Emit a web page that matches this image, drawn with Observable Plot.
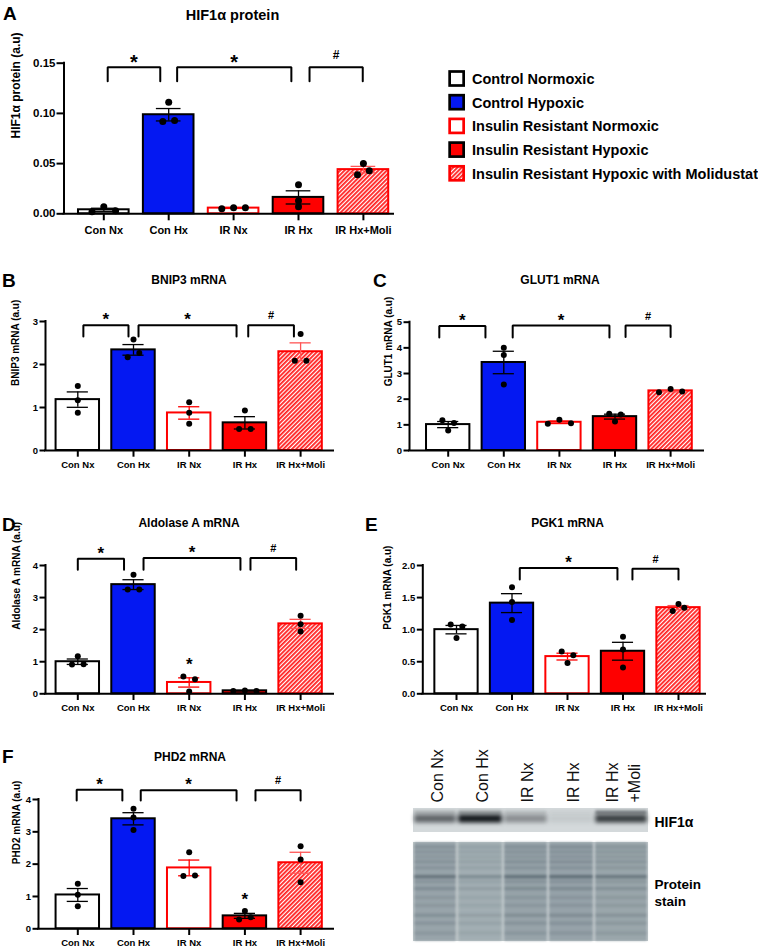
<!DOCTYPE html>
<html>
<head>
<meta charset="utf-8">
<script src="https://cdn.jsdelivr.net/npm/d3@7"></script>
<script src="https://cdn.jsdelivr.net/npm/@observablehq/plot@0.6"></script>
<style>
html, body { margin: 0; padding: 0; background: #fff; }
#page { position: relative; width: 758px; height: 951px; overflow: hidden; font-family: "Liberation Sans", Arial, sans-serif; }
.box { position: absolute; }
</style>
</head>
<body>
<div id="page"></div>
<script>
// ---------------- DATA ----------------
const groups = ["Con Nx", "Con Hx", "IR Nx", "IR Hx", "IR Hx+Moli"];
const legendLabels = ["Control Normoxic", "Control Hypoxic", "Insulin Resistant Normoxic", "Insulin Resistant Hypoxic", "Insulin Resistant Hypoxic with Molidustat"];
const panelLetters = ["A", "B", "C", "D", "E", "F"];
const panelTitles = ["HIF1α protein", "BNIP3 mRNA", "GLUT1 mRNA", "Aldolase A mRNA", "PGK1 mRNA", "PHD2 mRNA"];
const yLabels = ["HIF1α protein (a.u)", "BNIP3 mRNA (a.u)", "GLUT1 mRNA (a.u)", "Aldolase A mRNA (a.u)", "PGK1 mRNA (a.u)", "PHD2 mRNA (a.u)"];

// individual replicate values per group (Con Nx, Con Hx, IR Nx, IR Hx, IR Hx+Moli)
const hif1aProtein = [[0.002, 0.007, 0.003], [0.092, 0.111, 0.093], [0.005, 0.006, 0.006], [0.029, 0.013, 0.007], [0.039, 0.050, 0.043]];
const bnip3 = [[1.50, 1.17, 0.88], [2.17, 2.58, 2.27], [1.12, 0.88, 0.62], [0.93, 0.50, 0.50], [2.71, 2.09, 2.09]];
const glut1 = [[1.18, 1.07, 0.78], [4.00, 3.72, 2.57], [1.04, 1.20, 1.06], [1.43, 1.40, 1.13], [2.27, 2.40, 2.30]];
const aldolaseA = [[0.91, 1.17, 0.92], [3.25, 3.71, 3.25], [0.54, 0.45, 0.07], [0.09, 0.10, 0.09], [2.43, 2.17, 1.94]];
const pgk1 = [[1.08, 1.05, 0.87], [1.66, 1.43, 1.15], [0.66, 0.60, 0.48], [0.89, 0.69, 0.41], [1.40, 1.29, 1.34]];
const phd2 = [[1.39, 1.05, 0.70], [3.71, 3.44, 3.06], [2.37, 1.63, 1.65], [0.55, 0.29, 0.36], [2.55, 2.14, 1.44]];

// y tick values
const ticksA = [0, 0.05, 0.10, 0.15];
const ticksB = [0, 1, 2, 3];
const ticksC = [0, 1, 2, 3, 4, 5];
const ticksD = [0, 1, 2, 3, 4];
const ticksE = [0, 0.5, 1.0, 1.5, 2.0];
const ticksF = [0, 1, 2, 3, 4];

// significance brackets: [from group, to group, top value, leg value, symbol]
const bracketsA = [[0.06, 0.87, 0.146, 0.132, "*"], [1.13, 2.89, 0.146, 0.132, "*"], [3.17, 3.99, 0.146, 0.132, "#"]];
const bracketsB = [[0.10, 0.91, 2.91, 2.65, "*"], [1.09, 2.85, 2.91, 2.65, "*"], [3.06, 3.88, 2.91, 2.65, "#"]];
const bracketsC = [[-0.16, 0.67, 4.85, 4.40, "*"], [1.16, 2.90, 4.87, 4.40, "*"], [3.19, 4.00, 4.87, 4.42, "#"]];
const bracketsD = [[0.00, 0.83, 4.21, 3.87, "*"], [1.18, 2.92, 4.23, 3.87, "*"], [3.10, 3.92, 4.23, 3.87, "#"]];
const bracketsE = [[1.14, 2.90, 1.96, 1.78, "*"], [3.17, 4.00, 1.95, 1.78, "#"]];
const bracketsF = [[-0.02, 0.80, 4.30, 3.97, "*"], [1.13, 2.85, 4.29, 3.97, "*"], [3.19, 4.00, 4.29, 3.97, "#"]];
// single stars over bars: [group, value]
const starsD = [[2, 0.73]];
const starsF = [[3, 0.75]];

// western blot (approximation of the photograph)
const blotLanes = ["Con Nx", "Con Hx", "IR Nx", "IR Hx", "IR Hx\n+Moli"];
const laneEdges = [0, 44, 90, 135, 181, 235];
const blotStrips = [[0, 24], [34, 133]];
const hifBandMain = [0.6, 1.0, 0.38, 0.08, 0.8];
const hifBandUpper = [0.18, 0.3, 0.12, 0.04, 0.5];
const stainBandPos = [0.05, 0.10, 0.15, 0.20, 0.26, 0.35, 0.40, 0.47, 0.56, 0.64, 0.74, 0.82, 0.92];
const stainBandStrength = [0.35, 0.3, 0.25, 0.35, 0.3, 0.95, 0.3, 0.45, 0.25, 0.25, 0.4, 0.3, 0.25];
const stainLaneLoad = [0.95, 0.6, 1.0, 1.05, 0.9];

// ---------------- STYLE / LAYOUT ----------------
const BLUE = "#0418f2", RED = "#fe0000";
const HATCH_KEY = "#fefefd"; // placeholder fill replaced by the hatch pattern
const groupStyle = [
  {fill: "#ffffff", stroke: "#000", err: "#000"},
  {fill: BLUE, stroke: "#000", err: "#000"},
  {fill: "#ffffff", stroke: RED, err: RED},
  {fill: RED, stroke: "#000", err: "#000"},
  {fill: "hatch", stroke: RED, err: "#ff5555"}
];
const HW = 0.39, CW = 0.19;
const FONT = "'Liberation Sans', Arial, Helvetica, sans-serif";
const bigF = {tick: 11.5, x: 11, ylab: 12, star: 20, hash: 12, r: 3.5, gap: 11.8, starDy: 2, hashDy: -8, tsy: 7, tpy: 1.5, tsx: 7, tpx: 5};
const smF = {tick: 9.5, x: 9.5, ylab: 10, star: 17, hash: 11, r: 3, gap: 11.6, starDy: 0, hashDy: -6, tsy: 5.5, tpy: 2, tsx: 6.7, tpx: 4};

const page = document.getElementById("page");

// overlay svg: pattern, titles, letters, legend
const ov = d3.select(page).append("svg").attr("width", 758).attr("height", 951)
  .style("position", "absolute").style("left", 0).style("top", 0).style("font-family", FONT);
const pat = ov.append("defs").append("pattern").attr("id", "hatch").attr("patternUnits", "userSpaceOnUse")
  .attr("width", 3).attr("height", 3).attr("patternTransform", "rotate(45)");
pat.append("rect").attr("width", 3).attr("height", 3).attr("fill", "#fff");
pat.append("rect").attr("width", 1.8).attr("height", 3).attr("fill", "#ff2020");

const titlePos = [[232.5, 20, 14.5], [189, 283.5, 12], [560, 283.5, 12], [189, 527, 12], [567.5, 527, 12], [190, 761, 12]];
const letterPos = [[3, 20], [2, 287], [373, 287], [2, 531], [365, 531], [2, 763]];
panelTitles.forEach((t, k) => ov.append("text").attr("x", titlePos[k][0]).attr("y", titlePos[k][1])
  .attr("text-anchor", "middle").attr("font-weight", "bold").attr("font-size", titlePos[k][2]).text(t));
panelLetters.forEach((t, k) => ov.append("text").attr("x", letterPos[k][0]).attr("y", letterPos[k][1])
  .attr("font-weight", "bold").attr("font-size", 19).text(t));
legendLabels.forEach((t, k) => {
  const cy = 78.5 + k * 23.7, st = groupStyle[k];
  ov.append("rect").attr("x", 449.65).attr("y", cy - 7).attr("width", 14).attr("height", 14)
    .attr("fill", st.fill === "hatch" ? "url(#hatch)" : st.fill).attr("stroke", st.stroke).attr("stroke-width", 2.7);
  ov.append("text").attr("x", 472).attr("y", cy + 5.5).attr("font-weight", "bold").attr("font-size", 14.5).text(t);
});

function spread(v, ppu, stepPx, gap) {
  const order = d3.range(v.length).sort((a, b) => v[a] - v[b]);
  const rows = [];
  let cur = null, start = 0;
  for (const j of order) {
    if (cur && (v[j] - start) * ppu < 5.5) cur.push(j);
    else { cur = [j]; start = v[j]; rows.push(cur); }
  }
  const off = new Array(v.length).fill(0);
  for (const r of rows) {
    r.sort((a, b) => a - b);
    r.forEach((j, k) => off[j] = (k - (r.length - 1) / 2) * gap / stepPx);
  }
  return off;
}

function place(svg, box) {
  const div = document.createElement("div");
  div.className = "box";
  div.style.left = box[0] + "px"; div.style.top = box[1] + "px";
  div.style.width = box[2] + "px"; div.style.height = box[3] + "px";
  div.appendChild(svg);
  page.appendChild(div);
}

function restyle(svg, fill, fn) {
  svg.querySelectorAll(`g[fill="${fill}"]`).forEach(fn);
}

function barPanel(vals, ticks, fmt, ylab, brackets, stars, L, F) {
  const [bx, by, bw, bh] = L.box;
  const xmin = (L.x0 - L.c0) / L.step, xmax = (L.x1 - L.c0) / L.step;
  const yMax = ticks[ticks.length - 1];
  const ppu = (L.y0 - L.yTop) / yMax;
  const stats = vals.map((v, i) => {
    const m = d3.mean(v), s = d3.deviation(v) / Math.sqrt(v.length);
    return {i, m, lo: m - s, hi: m + s};
  });
  const pts = vals.flatMap((v, i) => {
    const off = spread(v, ppu, L.step, F.gap);
    return v.map((y, j) => ({x: i + off[j], y}));
  });
  const segs = brackets.flatMap(([a, b, top, leg], k) => [
    {k, x: a, y: leg}, {k, x: a, y: top}, {k, x: b, y: top}, {k, x: b, y: leg}]);
  const marks = [];
  stats.forEach((d, i) => {
    const st = groupStyle[i];
    marks.push(Plot.rect([d], {x1: e => e.i - HW, x2: e => e.i + HW, y1: 0, y2: e => e.m,
      fill: st.fill === "hatch" ? HATCH_KEY : st.fill, stroke: st.stroke, strokeWidth: 2}));
  });
  stats.forEach((d, i) => {
    const c = groupStyle[i].err;
    marks.push(Plot.ruleX([d], {x: "i", y1: "lo", y2: "hi", stroke: c, strokeWidth: 1.3}));
    marks.push(Plot.ruleY([d, d], {y: (e, k) => k ? e.hi : e.lo, x1: e => e.i - CW, x2: e => e.i + CW, stroke: c, strokeWidth: 1.3}));
  });
  marks.push(Plot.ruleY([0], {strokeWidth: 2, strokeLinecap: "square"}));
  marks.push(Plot.ruleX([xmin], {strokeWidth: 2, strokeLinecap: "square"}));
  marks.push(Plot.axisY({ticks, tickFormat: fmt, tickSize: F.tsy, tickPadding: F.tpy, strokeWidth: 2, fontSize: F.tick, label: null}));
  marks.push(Plot.axisX({ticks: d3.range(groups.length), tickFormat: i => groups[i], tickSize: F.tsx, tickPadding: F.tpx, strokeWidth: 2, fontSize: F.x, label: null}));
  marks.push(Plot.dot(pts, {x: "x", y: "y", r: F.r, fill: "black"}));
  marks.push(Plot.line(segs, {x: "x", y: "y", z: "k", stroke: "black", strokeWidth: 2, strokeLinejoin: "miter", curve: "linear"}));
  marks.push(Plot.text(brackets.filter(b => b[4] === "*"), {x: b => (b[0] + b[1]) / 2, y: b => b[2], text: b => b[4], fontSize: F.star, lineAnchor: "bottom", dy: F.starDy}));
  marks.push(Plot.text(brackets.filter(b => b[4] === "#"), {x: b => (b[0] + b[1]) / 2, y: b => b[2], text: b => b[4], fontSize: F.hash, lineAnchor: "bottom", dy: F.hashDy}));
  marks.push(Plot.text(stars, {x: s => s[0], y: s => s[1], text: () => "*", fontSize: F.star, lineAnchor: "bottom"}));
  marks.push(Plot.text([ylab], {text: d => d, frameAnchor: "left", rotate: -90, dx: L.ylx - L.x0, fontSize: F.ylab, lineAnchor: "middle"}));

  const svg = Plot.plot({
    width: bw, height: bh,
    marginLeft: L.x0 - bx, marginRight: bx + bw - L.x1,
    marginTop: L.yTop - by, marginBottom: by + bh - L.y0,
    x: {domain: [xmin, xmax], axis: null},
    y: {domain: [0, yMax], axis: null},
    style: {fontFamily: FONT, fontWeight: "bold", background: "none", overflow: "visible", color: "black"},
    marks
  });
  restyle(svg, HATCH_KEY, g => {
    g.setAttribute("fill", "url(#hatch)");
    g.querySelectorAll("rect").forEach(r => r.setAttribute("fill", "url(#hatch)"));
  });
  place(svg, L.box);
}

const f2 = d3.format(".2f"), f1 = d3.format(".1f"), f0 = d3.format("d");
barPanel(hif1aProtein, ticksA, f2, yLabels[0], bracketsA, [],
  {x0: 63.5, x1: 393, y0: 213.3, yTop: 62.7, c0: 103.3, step: 64.9, ylx: 16, box: [0, 30, 400, 215]}, bigF);
barPanel(bnip3, ticksB, f0, yLabels[1], bracketsB, [],
  {x0: 45, x1: 333, y0: 450, yTop: 321, c0: 77.3, step: 55.7, ylx: 15.3, box: [0, 290, 345, 190]}, smF);
barPanel(glut1, ticksC, f0, yLabels[2], bracketsC, [],
  {x0: 409, x1: 703, y0: 450, yTop: 321.7, c0: 447.7, step: 55.6, ylx: 388.3, box: [372, 290, 345, 190]}, smF);
barPanel(aldolaseA, ticksD, f0, yLabels[3], bracketsD, starsD,
  {x0: 45, x1: 333, y0: 693.3, yTop: 565, c0: 77.3, step: 55.7, ylx: 16.2, box: [0, 535, 345, 190]}, smF);
barPanel(pgk1, ticksE, f1, yLabels[4], bracketsE, [],
  {x0: 422.3, x1: 705, y0: 693.3, yTop: 565, c0: 456, step: 55.5, ylx: 387.5, box: [372, 535, 345, 190]}, smF);
barPanel(phd2, ticksF, f0, yLabels[5], bracketsF, starsF,
  {x0: 38, x1: 333, y0: 928.3, yTop: 799, c0: 77.3, step: 55.7, ylx: 15.8, box: [0, 770, 345, 181]}, smF);

// ---------------- WESTERN BLOT ----------------
(function blot() {
  const lanes = d3.range(blotLanes.length);
  const lx1 = i => laneEdges[i] + 1.3, lx2 = i => laneEdges[i + 1] - 1.3;
  const stainRows = lanes.flatMap(i => stainBandPos.map((p, k) => ({i, p, s: stainBandStrength[k] * stainLaneLoad[i]})));
  const [h0, h1] = blotStrips[0], [s0, s1] = blotStrips[1];
  const sH = s1 - s0;
  const C = {hifBg: "#d4d9db", stainBg: "#c0c8cb", lane: "#75858e", band: "#44545d", hifUp: "#1a2024", hifMain: "#12161a"};
  const svg = Plot.plot({
    width: 353, height: 211, marginLeft: 8, marginRight: 110, marginTop: 68, marginBottom: 10,
    x: {domain: [laneEdges[0], laneEdges[laneEdges.length - 1]], axis: null},
    y: {domain: [h0, s1], reverse: true, axis: null},
    opacity: {type: "identity"},
    style: {fontFamily: FONT, fontWeight: "bold", background: "none", overflow: "visible", color: "black"},
    marks: [
      Plot.rect([blotStrips[0]], {x1: laneEdges[0], x2: laneEdges[5], y1: d => d[0], y2: d => d[1], fill: C.hifBg}),
      Plot.rect([blotStrips[1]], {x1: laneEdges[0], x2: laneEdges[5], y1: d => d[0], y2: d => d[1], fill: C.stainBg}),
      Plot.rect(lanes, {x1: lx1, x2: lx2, y1: s0, y2: s1, fill: C.lane, fillOpacity: i => 0.4 * stainLaneLoad[i] + 0.15}),
      Plot.rect(stainRows, {x1: d => lx1(d.i), x2: d => lx2(d.i), y1: d => s0 + d.p * sH - 1.8, y2: d => s0 + d.p * sH + 1.8,
        fill: C.band, fillOpacity: d => Math.min(0.95, 0.6 * d.s)}),
      Plot.rect(lanes, {x1: lx1, x2: lx2, y1: h0 + 2.5, y2: h0 + 6, fill: C.hifUp, fillOpacity: i => hifBandUpper[i]}),
      Plot.rect(lanes, {x1: lx1, x2: lx2, y1: h0 + 6.5, y2: h0 + 14.5, fill: C.hifMain, fillOpacity: i => hifBandMain[i]}),
      Plot.text(lanes, {x: i => (laneEdges[i] + laneEdges[i + 1]) / 2, frameAnchor: "top", text: i => blotLanes[i],
        rotate: -90, textAnchor: "start", lineAnchor: "middle", dy: -6, fontSize: 16, fontWeight: "normal", lineHeight: 1.375, fill: "#111"}),
      Plot.text(["HIF1α"], {x: laneEdges[5], y: (h0 + h1) / 2 + 2, text: d => d, dx: 6, textAnchor: "start", fontSize: 14}),
      Plot.text(["Protein\nstain"], {x: laneEdges[5], y: s0 + 49.5, text: d => d, dx: 6, textAnchor: "start", fontSize: 13.5, lineHeight: 1.26})
    ]
  });
  restyle(svg, C.hifUp, g => g.style.filter = "blur(1.6px)");
  restyle(svg, C.hifMain, g => g.style.filter = "blur(2px)");
  restyle(svg, C.band, g => g.style.filter = "blur(0.9px)");
  restyle(svg, C.lane, g => g.style.filter = "blur(0.8px)");
  place(svg, [405, 740, 353, 211]);
})();
</script>
</body>
</html>
